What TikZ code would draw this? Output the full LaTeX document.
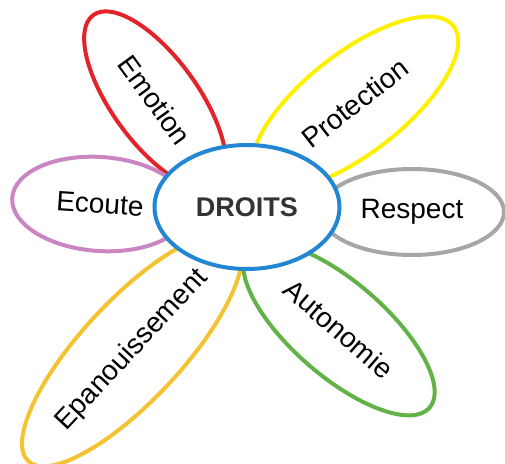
\documentclass[tikz,border=0pt]{standalone}
\usepackage{fontspec}
\setmainfont{Liberation Sans}
\usepackage{tikz}
\usetikzlibrary{shapes.geometric}
\definecolor{petalred}{HTML}{E3222A}
\definecolor{petalyellow}{HTML}{FFF000}
\definecolor{petalgrey}{HTML}{A6A6A6}
\definecolor{petalgreen}{HTML}{62B248}
\definecolor{petalorange}{HTML}{F5C232}
\definecolor{petalpurple}{HTML}{CA86C2}
\definecolor{heartblue}{HTML}{2286D3}
\tikzset{petal/.style={ellipse, draw=#1, line width=4pt, inner sep=1pt, font=\fontsize{28}{30}\selectfont}}

\begin{document}
\begin{tikzpicture}[x=1pt, y=1pt]
            \useasboundingbox (-247,-256) rectangle (258,207);
            \node[petal=petalred, minimum width=210pt, minimum height=86pt, rotate=-54] (emotion) at (-92,107) {Emotion};
            \node[petal=petalyellow, minimum width=250pt, minimum height=100pt, rotate=38] (protection) at (108,104) {Protection};
            \node[petal=petalgrey, minimum width=184pt, minimum height=86pt] (respect) at (165,-5) {Respect};
            \node[petal=petalgreen, minimum width=240pt, minimum height=94pt, rotate=-41] (autonomie) at (92,-122) {Autonomie};
            \node[petal=petalorange, minimum width=304pt, minimum height=100pt, rotate=47] (epanouissement) at (-115,-143) {Epanouissement};
            \node[petal=petalpurple, minimum width=176pt, minimum height=94pt, rotate=-4] (ecoute) at (-147,3) {Ecoute};

            \node[ellipse, draw=heartblue, fill=white, line width=4pt, minimum width=185pt, minimum height=124pt,
                font=\fontsize{27}{29}\selectfont\bfseries, text=black!80] (droits) at (0,0) {DROITS};
        \end{tikzpicture}
\end{document}
